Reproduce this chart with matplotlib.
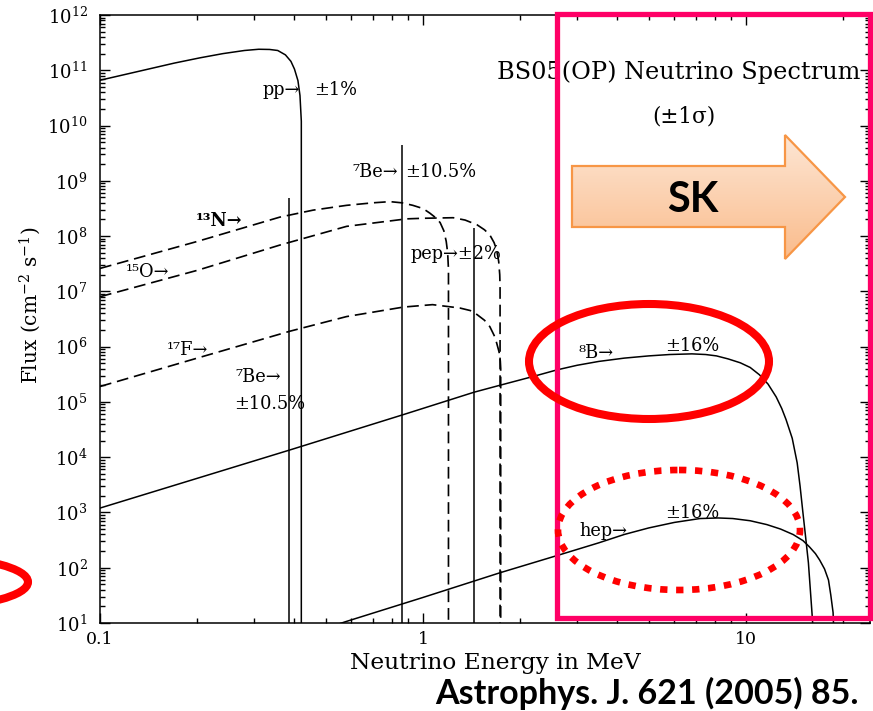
import numpy as np
import matplotlib
matplotlib.use("Agg")
import matplotlib.pyplot as plt
from matplotlib.patches import Ellipse, Rectangle, Polygon
from matplotlib.ticker import LogLocator, NullFormatter, FixedLocator, FixedFormatter

plt.rcParams['font.family'] = ['DejaVu Serif']
plt.rcParams['mathtext.fontset'] = 'dejavuserif'

# ---- solar neutrino spectra (energy in MeV, flux in cm^-2 s^-1 [MeV^-1]) ----
pp_E = [0.1, 0.13, 0.17, 0.204, 0.24, 0.28, 0.31, 0.335, 0.355, 0.375, 0.39, 0.40, 0.41, 0.416, 0.42, 0.42]
pp_F = [6.6e10, 9.4e10, 1.35e11, 1.68e11, 2.0e11, 2.28e11, 2.4e11, 2.38e11, 2.28e11, 1.9e11,
        1.45e11, 1.05e11, 6.5e10, 3.5e10, 1.2e10, 10]

n13_E = [0.1, 0.2, 0.36, 0.457, 0.58, 0.70, 0.79, 0.86, 0.93, 1.0, 1.05, 1.10, 1.13, 1.16, 1.18, 1.192, 1.199, 1.199]
n13_F = [2.6e7, 8e7, 2.2e8, 2.95e8, 3.6e8, 4.0e8, 4.2e8, 4.0e8, 3.6e8, 3.15e8, 2.6e8,
         2.1e8, 1.75e8, 1.25e8, 8.0e7, 5.0e7, 2.5e7, 10]

o15_E = [0.1, 0.2, 0.361, 0.58, 0.89, 1.0, 1.24, 1.35, 1.47, 1.55, 1.61, 1.66, 1.69, 1.715, 1.728, 1.732, 1.732]
o15_F = [8e6, 2.4e7, 6.9e7, 1.5e8, 2.05e8, 2.1e8, 2.15e8, 1.95e8, 1.6e8, 1.3e8, 1.05e8,
         7.6e7, 5.6e7, 3.5e7, 2.0e7, 1.2e7, 10]

f17_E = [0.1, 0.2, 0.387, 0.58, 0.87, 1.07, 1.3, 1.4, 1.47, 1.55, 1.61, 1.66, 1.69, 1.72, 1.735, 1.74, 1.74]
f17_F = [1.9e5, 6.2e5, 1.9e6, 3.5e6, 5.2e6, 5.75e6, 5.0e6, 4.5e6, 3.8e6, 3.0e6, 2.3e6,
         1.6e6, 1.17e6, 8.0e5, 5.5e5, 4.0e5, 10]

b8_E = [0.1, 0.387, 0.87, 1.44, 1.73, 2.2, 2.6, 3.0, 3.5, 4.2, 5.0, 5.8, 6.8, 7.5, 8.1, 8.8, 9.6,
        10.3, 11.0, 11.7, 12.4, 12.9, 13.3, 13.9, 14.4, 14.7, 15.0, 15.3, 15.6, 16.0, 16.3]
b8_F = [1.2e3, 1.35e4, 5.9e4, 1.5e5, 2.0e5, 2.9e5, 3.8e5, 4.6e5, 5.4e5, 6.2e5, 6.8e5, 7.2e5,
        7.4e5, 7.2e5, 6.8e5, 6.0e5, 5.1e5, 4.2e5, 3.1e5, 2.1e5, 1.23e5, 7.6e4, 4.8e4,
        2.2e4, 7.9e3, 3.0e3, 1.0e3, 3.5e2, 1.23e2, 15.5, 3]

hep_E = [0.5, 0.574, 1.0, 1.73, 2.67, 3.5, 4.2, 5.0, 6.0, 7.2, 8.2, 9.1, 10.3, 11.6, 12.8,
         14.0, 15.0, 15.7, 16.4, 16.9, 17.5, 18.0, 18.3, 18.6, 18.8]
hep_F = [8, 10.5, 29, 81, 174, 282, 400, 525, 660, 776, 795, 776, 708, 603, 500,
         398, 310, 240, 180, 138, 95, 60, 32, 15.5, 3]

# mono-energetic lines: energy, flux
line_E = [0.384, 0.862, 1.442]
line_F = [4.9e8, 4.5e9, 1.4e8]

xtick_vals = [0.1, 1, 10]
xtick_labels = ["0.1", "1", "10"]
ytick_exps = list(range(1, 13))

W, H = 873, 711
fig = plt.figure(figsize=(W / 100, H / 100), dpi=100)
ax = fig.add_axes([100 / W, (H - 623) / H, (870 - 100) / W, (623 - 15) / H])
ax.set_xscale('log')
ax.set_yscale('log')
ax.set_xlim(0.1, 24.2)
ax.set_ylim(10, 1e12)

lw = 1.1
dash = (0, (7, 3.5))
ax.plot(pp_E, pp_F, color='black', lw=lw)
ax.plot(b8_E, b8_F, color='black', lw=lw)
ax.plot(hep_E, hep_F, color='black', lw=lw)
ax.plot(n13_E, n13_F, color='black', lw=lw * 1.1, linestyle=dash)
ax.plot(o15_E, o15_F, color='black', lw=lw * 1.1, linestyle=dash)
ax.plot(f17_E, f17_F, color='black', lw=lw * 1.1, linestyle=dash)
ax.vlines(line_E, 10, line_F, color='black', lw=lw)

for s in ax.spines.values():
    s.set_linewidth(1.1)
ax.xaxis.set_major_locator(FixedLocator(xtick_vals))
ax.xaxis.set_major_formatter(FixedFormatter(xtick_labels))
ax.xaxis.set_minor_locator(LogLocator(base=10, subs=np.arange(2, 10)))
ax.xaxis.set_minor_formatter(NullFormatter())
ax.yaxis.set_major_locator(FixedLocator([10.0 ** k for k in ytick_exps]))
ax.yaxis.set_major_formatter(FixedFormatter([rf"$10^{{{k}}}$" for k in ytick_exps]))
ax.yaxis.set_minor_locator(LogLocator(base=10, subs=np.arange(2, 10), numticks=20))
ax.yaxis.set_minor_formatter(NullFormatter())
ax.tick_params(which='both', direction='in', top=True, right=True, width=1)
ax.tick_params(which='major', length=7)
ax.tick_params(which='minor', length=3.5)
ax.tick_params(axis='y', pad=9, labelsize=13)
ax.tick_params(axis='x', pad=6, labelsize=12.5)


def ftext(x, y, s, **kw):
    fig.text(x / W, 1 - y / H, s, ha='center', va='center', **kw)


ftext(495, 663, "Neutrino Energy in MeV", fontsize=16.8)
ftext(30, 305, "Flux (cm$^{-2}$ s$^{-1}$)", fontsize=14.5, rotation=90)

fs = 12.8
ftext(281, 90, "pp→", fontsize=fs)
ftext(336, 90, "±1%", fontsize=fs)
ftext(679, 72, "BS05(OP) Neutrino Spectrum", fontsize=17.3)
ftext(684, 117, "(±1σ)", fontsize=15.5)
ftext(375, 172, "⁷Be→", fontsize=fs)
ftext(441, 172, "±10.5%", fontsize=fs)
ftext(219, 221, "¹³N→", fontsize=fs, fontweight='bold')
ftext(147, 272, "¹⁵O→", fontsize=fs)
ftext(187, 350, "¹⁷F→", fontsize=fs)
ftext(258, 377, "⁷Be→", fontsize=fs)
ftext(270, 404, "±10.5%", fontsize=fs)
ftext(456, 254, "pep→±2%", fontsize=fs)
ftext(596, 353, "⁸B→", fontsize=fs)
ftext(692, 346, "±16%", fontsize=fs)
ftext(603, 531, "hep→", fontsize=fs)
ftext(692, 513, "±16%", fontsize=fs)

# ---- annotation layer in pixel coordinates ----
ov = fig.add_axes([0, 0, 1, 1], zorder=10)
ov.patch.set_alpha(0)

# arrow with vertical gradient fill
arrow_pts = [(572, 166), (785, 166), (785, 135), (845, 197), (785, 259), (785, 227), (572, 227)]
arrow = Polygon(arrow_pts, closed=True, facecolor='none', edgecolor='#F79646', lw=1.6, zorder=3)
ov.add_patch(arrow)
top_c = np.array([253, 230, 212]) / 255
bot_c = np.array([250, 188, 140]) / 255
t = np.linspace(0, 1, 128)[:, None, None]
grad = top_c * (1 - t) + bot_c * t
grad = np.repeat(grad, 2, axis=1)
im = ov.imshow(grad, extent=[572, 845, 259, 135], aspect='auto', zorder=2, interpolation='bilinear')
im.set_clip_path(arrow)
ov.text(693, 200, "SK", ha='center', va='center', fontsize=30, fontweight='bold',
        family=['Lato', 'DejaVu Sans'], zorder=4)

ov.add_patch(Rectangle((557, 14), 870 - 557, 618 - 14, fill=False, edgecolor='#FF0066', lw=3.8, zorder=5))
ov.add_patch(Ellipse((649, 361.5), 240, 115, fill=False, edgecolor='#FF0000', lw=5.8, zorder=6))
ov.add_patch(Ellipse((679, 530), 242, 120, fill=False, edgecolor='#FF0000', lw=4.8,
                     linestyle=(0, (1.1, 1.3)), zorder=6))
ov.add_patch(Ellipse((-70, 582), 196, 50, fill=False, edgecolor='#FF0000', lw=5.8, zorder=6))
ov.set_xlim(0, W)
ov.set_ylim(H, 0)
ov.axis('off')

fig.text(647 / W, 1 - 693 / H, "Astrophys. J. 621 (2005) 85.", ha='center', va='center',
         fontsize=24.5, fontweight='bold', family=['Lato', 'DejaVu Sans'])

fig.savefig("out.png", dpi=100)
